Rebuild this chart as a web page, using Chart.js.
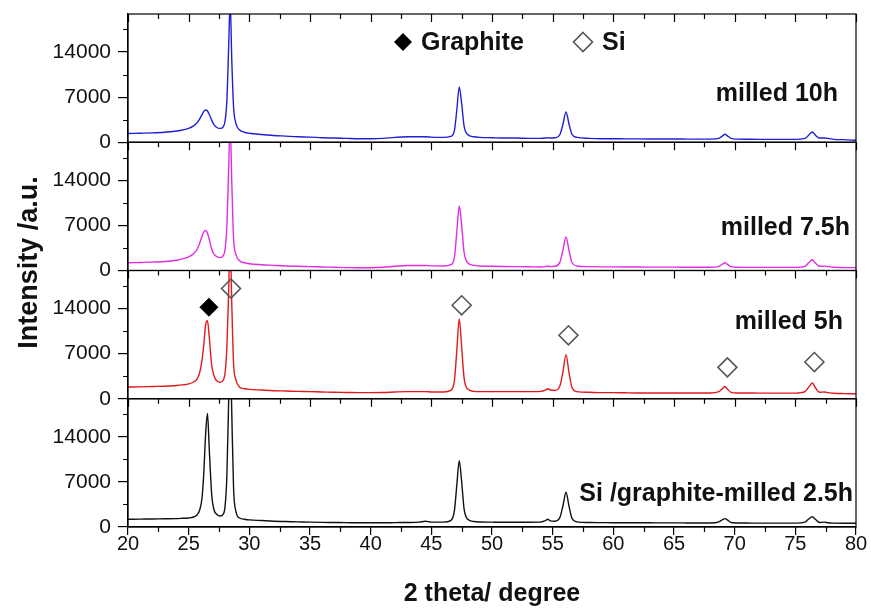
<!DOCTYPE html>
<html lang="en">
<head>
<meta charset="utf-8">
<title>XRD patterns</title>
<script src="https://cdn.jsdelivr.net/npm/chart.js@4.4.0/dist/chart.umd.min.js"></script>
<style>
  html, body { margin: 0; padding: 0; background: #fff; }
</style>
</head>
<body>
<canvas id="xrdChart" width="871" height="610"></canvas>
<script>
// 2 theta grid shared by all four patterns
const angles = [
  20, 21, 22, 23, 24, 24.5, 25, 25.4, 25.7, 25.9,
  26.1, 26.25, 26.4, 26.55, 26.7, 26.9, 27.1, 27.35, 27.6, 27.85,
  28.0, 28.15, 28.3, 28.42, 28.55, 28.7, 28.9, 29.2, 29.6, 30,
  31, 32, 33, 34, 35, 36, 37, 38, 39, 40,
  41, 42, 43, 44, 44.5, 45, 46, 46.6, 46.9, 47.1,
  47.3, 47.5, 47.7, 48.0, 48.5, 49, 50, 51, 52, 53,
  54, 54.4, 54.6, 54.8, 55.2, 55.6, 55.85, 56.1, 56.35, 56.6,
  57, 58, 59, 60, 61, 62, 63, 64, 65, 66,
  67, 68, 68.7, 69.0, 69.2, 69.4, 69.7, 70.2, 71, 72,
  73, 74, 75, 75.8, 76.1, 76.4, 76.65, 77.0, 77.4, 77.7,
  78.2, 79, 80
];

const milled10h = [
  1350, 1400, 1450, 1550, 1750, 1900, 2150, 2550, 3050, 3600,
  4300, 4800, 5000, 4850, 4300, 3400, 2700, 2250, 2150, 2400,
  3300, 6500, 15000, 22000, 13000, 5500, 2900, 1900, 1550, 1400,
  1200, 1050, 950, 850, 800, 700, 650, 600, 550, 550,
  600, 750, 850, 850, 850, 800, 750, 900, 1800, 5000,
  8600, 6000, 2500, 1200, 850, 750, 700, 650, 650, 600,
  600, 650, 700, 650, 700, 1200, 2800, 4700, 2800, 1200,
  750, 600, 550, 550, 530, 520, 510, 500, 500, 490,
  480, 480, 600, 1000, 1250, 1000, 600, 480, 460, 450,
  450, 450, 450, 600, 1100, 1600, 1100, 650, 650, 600,
  450, 400, 300
];

const milled7h5 = [
  1200, 1250, 1300, 1400, 1600, 1800, 2100, 2600, 3300, 4200,
  5300, 6000, 6200, 5800, 4800, 3300, 2500, 2100, 2000, 2300,
  3300, 7000, 16000, 23000, 14000, 5000, 2500, 1500, 1200, 1050,
  900, 800, 700, 650, 600, 550, 500, 450, 420, 430,
  500, 650, 780, 780, 780, 720, 700, 900, 2000, 6000,
  10000, 7000, 2800, 1200, 800, 700, 650, 620, 600, 580,
  550, 600, 700, 600, 650, 1300, 3200, 5200, 3100, 1200,
  700, 600, 570, 560, 550, 540, 530, 520, 520, 510,
  500, 500, 650, 1000, 1200, 950, 600, 500, 490, 480,
  480, 480, 480, 650, 1200, 1660, 1150, 650, 680, 600,
  500, 450, 450
];

const milled5h = [
  1820, 1850, 1900, 1950, 2050, 2150, 2300, 2600, 3100, 4000,
  6000, 8500, 11500, 12100, 9500, 5200, 3500, 2700, 2550, 2900,
  4000, 8000, 17000, 25000, 15000, 5500, 2900, 1800, 1550, 1450,
  1350, 1250, 1200, 1150, 1100, 1050, 1000, 980, 950, 950,
  970, 1050, 1100, 1100, 1100, 1050, 1050, 1300, 2800, 7500,
  12400, 8000, 3200, 1500, 1150, 1100, 1100, 1100, 1100, 1100,
  1150, 1350, 1560, 1350, 1300, 2000, 4200, 6850, 4000, 1700,
  1100, 1000, 950, 950, 920, 900, 900, 900, 900, 900,
  900, 900, 1100, 1600, 1900, 1500, 1000, 900, 890, 880,
  880, 880, 880, 1100, 1800, 2440, 1700, 1000, 1050, 950,
  850, 800, 780
];

const milled2h5 = [
  1200, 1220, 1250, 1270, 1300, 1350, 1400, 1550, 1900, 2600,
  4500, 8500, 14500, 17600, 12000, 5000, 2600, 1900, 1700, 2000,
  3200, 8000, 20000, 30000, 18000, 6000, 2400, 1400, 1200, 1100,
  1000, 900, 850, 800, 750, 720, 700, 680, 650, 650,
  650, 680, 700, 750, 900, 750, 750, 1000, 2500, 6500,
  10300, 7000, 2800, 1200, 850, 780, 750, 730, 730, 730,
  750, 1000, 1200, 950, 900, 1500, 3300, 5400, 3200, 1300,
  800, 700, 680, 660, 650, 650, 650, 640, 640, 630,
  620, 620, 800, 1150, 1300, 1100, 700, 620, 610, 600,
  600, 600, 600, 750, 1250, 1600, 1200, 700, 750, 650,
  600, 580, 580
];

// phase markers (placed on the 5h pattern)
const graphiteAngles = [26.67];
const graphiteMarks = [14200];
const siAngles = [28.49, 47.5, 56.3, 69.4, 76.57];
const siMarks = [17100, 14500, 9850, 4870, 5700];

const panelIds = ['p10', 'p75', 'p5', 'p25'];
const panelLabels = ['milled 10h', 'milled 7.5h', 'milled 5h', 'Si /graphite-milled 2.5h'];
const panelColors = ['#1f1fd6', '#e22de2', '#e3191e', '#111111'];
const panelSeries = [milled10h, milled7h5, milled5h, milled2h5];
const yTicks = [0, 7000, 14000];
const minorYTicks = [3500, 10500, 17500];
const yMax = 19900;
const xTickStep = 2.5;

const FONT = "'Liberation Sans', Arial, sans-serif";
Chart.defaults.font.family = FONT;

function toPoints(xs, ys) {
  return xs.map((x, i) => ({ x: x, y: ys[i] }));
}

function diamond(ctx, x, y, r, filled) {
  ctx.beginPath();
  ctx.moveTo(x, y - r);
  ctx.lineTo(x + r, y);
  ctx.lineTo(x, y + r);
  ctx.lineTo(x - r, y);
  ctx.closePath();
  if (filled) {
    ctx.fillStyle = '#000';
    ctx.fill();
  } else {
    ctx.strokeStyle = '#555';
    ctx.lineWidth = 1.6;
    ctx.stroke();
  }
}

// frames, minor ticks, panel names, legend and y title
const decorations = {
  id: 'decorations',
  afterDatasetsDraw(chart) {
    const ctx = chart.ctx;
    const xs = chart.scales.x;
    ctx.save();
    ctx.strokeStyle = '#000';
    ctx.lineWidth = 1.2;

    const xTicks = [];
    for (let v = xs.min; v <= xs.max + 0.001; v += xTickStep) xTicks.push(v);

    panelIds.forEach((id, i) => {
      const ys = chart.scales[id];
      ctx.strokeRect(xs.left, ys.top, xs.right - xs.left, ys.bottom - ys.top);
      ctx.beginPath();
      minorYTicks.forEach(v => {
        const py = Math.round(ys.getPixelForValue(v)) + 0.5;
        ctx.moveTo(xs.left - 5, py);
        ctx.lineTo(xs.left, py);
      });
      xTicks.forEach(v => {
        const major = Math.abs(v % 5) < 0.01;
        if (i === panelIds.length - 1 && major) return;
        const px = Math.round(xs.getPixelForValue(v)) + 0.5;
        ctx.moveTo(px, ys.bottom);
        ctx.lineTo(px, ys.bottom + (major ? 8 : 5));
        if (i === 0) {
          ctx.moveTo(px, ys.top);
          ctx.lineTo(px, ys.top + (major ? 8 : 5));
        }
      });
      ctx.stroke();

      // panel name
      ctx.fillStyle = '#111';
      ctx.font = 'bold 25px ' + FONT;
      ctx.textAlign = 'right';
      ctx.textBaseline = 'middle';
      const offsets = [[18, 80], [6, 86], [13, 52], [3, 95]];
      ctx.fillText(panelLabels[i], xs.right - offsets[i][0], ys.top + offsets[i][1]);
    });

    // legend
    const top = chart.scales[panelIds[0]].top;
    ctx.textAlign = 'left';
    ctx.font = 'bold 25px ' + FONT;
    diamond(ctx, xs.left + 275, top + 28, 9, true);
    ctx.fillStyle = '#111';
    ctx.fillText('Graphite', xs.left + 293, top + 29);
    diamond(ctx, xs.left + 455, top + 28, 9.5, false);
    ctx.fillStyle = '#111';
    ctx.fillText('Si', xs.left + 474, top + 29);

    // shared y title
    const bottom = chart.scales[panelIds[panelIds.length - 1]].bottom;
    ctx.translate(30, (top + bottom) / 2 - 8);
    ctx.rotate(-Math.PI / 2);
    ctx.textAlign = 'center';
    ctx.font = 'bold 27px ' + FONT;
    ctx.fillText('Intensity /a.u.', 0, 0);
    ctx.restore();
  }
};

function panelScale() {
  return {
    type: 'linear',
    position: 'left',
    stack: 'xrd',
    stackWeight: 1,
    min: 0,
    max: yMax,
    border: { color: '#000', width: 1.2 },
    grid: { drawOnChartArea: false, tickLength: 10, color: '#000', lineWidth: 1.2 },
    ticks: {
      padding: 7, color: '#111', font: { size: 21 },
      callback: v => String(v)
    },
    afterBuildTicks: s => { s.ticks = yTicks.map(v => ({ value: v })); },
    afterFit: s => {
      s.width = 128;
      s.paddingTop = 0;
      s.paddingBottom = 0;
    }
  };
}

const scales = {
  x: {
    type: 'linear',
    position: 'bottom',
    min: 20,
    max: 80,
    border: { color: '#000', width: 1.2 },
    grid: { drawOnChartArea: false, tickLength: 8, color: '#000', lineWidth: 1.2 },
    ticks: { stepSize: 5, padding: -3, autoSkip: false, maxRotation: 0, color: '#111', font: { size: 20 } },
    title: {
      display: true, text: '2 theta/ degree', color: '#111',
      font: { size: 25, weight: 'bold' }, padding: { top: 4, bottom: 1 }
    },
    afterFit: s => { s.height = 83; }
  }
};
// later-added left boxes are placed first (top) in the stack
[...panelIds].reverse().forEach(id => { scales[id] = panelScale(); });

const datasets = panelIds.map((id, i) => ({
  label: panelLabels[i],
  data: toPoints(angles, panelSeries[i]),
  yAxisID: id,
  borderColor: panelColors[i],
  borderWidth: 1.4,
  pointRadius: 0,
  cubicInterpolationMode: 'monotone',
  order: 1
}));
datasets.push({
  label: 'Graphite',
  type: 'scatter',
  data: toPoints(graphiteAngles, graphiteMarks),
  yAxisID: 'p5',
  pointStyle: 'rectRot',
  pointRadius: 9,
  backgroundColor: '#000',
  borderColor: '#000',
  clip: false,
  order: 0
});
datasets.push({
  label: 'Si',
  type: 'scatter',
  data: toPoints(siAngles, siMarks),
  yAxisID: 'p5',
  pointStyle: 'rectRot',
  pointRadius: 9.5,
  backgroundColor: 'rgba(0,0,0,0)',
  borderColor: '#555',
  borderWidth: 1.6,
  clip: false,
  order: 0
});

new Chart(document.getElementById('xrdChart').getContext('2d'), {
  type: 'line',
  data: { datasets: datasets },
  options: {
    responsive: false,
    animation: false,
    layout: { padding: { left: 0, right: 15, top: 14, bottom: 0 } },
    plugins: { legend: { display: false }, tooltip: { enabled: false } },
    scales: scales
  },
  plugins: [decorations]
});
</script>
</body>
</html>
